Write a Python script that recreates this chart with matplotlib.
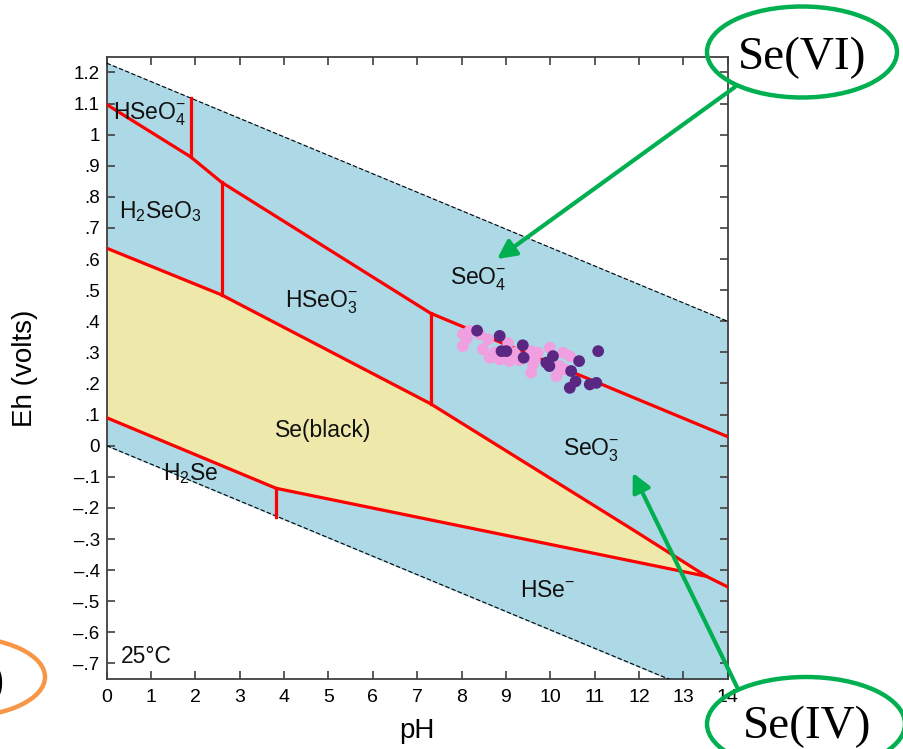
import matplotlib.pyplot as plt
from matplotlib.patches import Ellipse, Polygon

plt.rcParams['font.family'] = ['Liberation Sans', 'DejaVu Sans']
plt.rcParams['mathtext.fontset'] = 'custom'
plt.rcParams['mathtext.rm'] = 'Liberation Sans'
plt.rcParams['mathtext.it'] = 'Liberation Sans'

# water stability limits
water_ph = [0, 14]
water_top = [1.23, 0.40]
water_bot = [0.0, -0.829]

# red boundaries (pH, Eh)
upper_ph = [0, 1.89, 2.59, 7.30, 14]
upper_eh = [1.097, 0.929, 0.847, 0.426, 0.029]
se_top_ph = [0, 2.59, 7.30, 11.86, 13.52, 14]
se_top_eh = [0.635, 0.485, 0.135, -0.27, -0.42, -0.454]
se_bot_ph = [0, 3.82, 13.52]
se_bot_eh = [0.09, -0.137, -0.42]
vert_ph = [1.89, 2.59, 7.30, 3.82]
vert_lo = [0.929, 0.485, 0.135, -0.229]
vert_hi = [1.118, 0.847, 0.426, -0.137]

# samples
pink_ph = [8.03, 8.03, 8.12, 8.18, 8.41, 8.60, 8.48, 8.63, 8.75, 8.86, 9.05, 9.08, 9.20, 9.30,
           9.57, 9.72, 9.61, 9.57, 9.65, 9.99, 10.29, 10.44, 10.21, 10.32, 10.14]
pink_eh = [0.358, 0.320, 0.345, 0.369, 0.358, 0.342, 0.310, 0.283, 0.300, 0.277, 0.330, 0.272, 0.299, 0.275,
           0.304, 0.299, 0.261, 0.235, 0.277, 0.315, 0.299, 0.288, 0.256, 0.245, 0.224]
dark_ph = [8.35, 8.86, 8.90, 9.01, 9.38, 9.40, 9.91, 9.98, 10.06, 10.47, 10.65, 10.57, 10.44, 10.89, 11.04, 11.08]
dark_eh = [0.370, 0.353, 0.304, 0.304, 0.323, 0.283, 0.267, 0.256, 0.288, 0.240, 0.272, 0.207, 0.186, 0.197, 0.202, 0.304]

# species labels (pH, Eh, text)
species = [
    (0.14, 1.048, r'$\mathrm{HSeO_4^{-}}$'),
    (0.28, 0.732, r'$\mathrm{H_2SeO_3}$'),
    (7.75, 0.519, r'$\mathrm{SeO_4^{-}}$'),
    (4.01, 0.445, r'$\mathrm{HSeO_3^{-}}$'),
    (3.79, 0.029, 'Se(black)'),
    (10.28, -0.032, r'$\mathrm{SeO_3^{-}}$'),
    (1.28, -0.110, r'$\mathrm{H_2Se}$'),
    (9.31, -0.486, r'$\mathrm{HSe^{-}}$'),
    (0.33, -0.699, '25°C'),
]

xticks = list(range(0, 15))
yticks = [-0.7, -0.6, -0.5, -0.4, -0.3, -0.2, -0.1, 0, 0.1, 0.2, 0.3, 0.4, 0.5, 0.6, 0.7, 0.8, 0.9, 1.0, 1.1, 1.2]
ylabels = ['–.7', '–.6', '–.5', '–.4', '–.3', '–.2', '–.1', '0', '.1', '.2', '.3', '.4', '.5', '.6',
           '.7', '.8', '.9', '1', '1.1', '1.2']

fig = plt.figure(figsize=(9.04, 7.49), dpi=100)
ax = fig.add_axes([0.118, 0.0935, 0.687, 0.8305])

ax.fill_between(water_ph, water_top, water_bot, color='#add8e6', zorder=1)
yellow = list(zip(se_top_ph[:-1], se_top_eh[:-1])) + list(zip(se_bot_ph[::-1], se_bot_eh[::-1]))
ax.add_patch(Polygon(yellow, closed=True, color='#eee8aa', zorder=2))
ax.plot(water_ph, water_top, color='black', lw=0.8, ls=(0, (4, 2)), zorder=3)
ax.plot(water_ph, water_bot, color='black', lw=0.8, ls=(0, (4, 2)), zorder=3)

ax.plot(upper_ph, upper_eh, color='red', lw=2.3, zorder=4)
ax.plot(se_top_ph, se_top_eh, color='red', lw=2.3, zorder=4)
ax.plot(se_bot_ph, se_bot_eh, color='red', lw=2.3, zorder=4)
for p, lo, hi in zip(vert_ph, vert_lo, vert_hi):
    ax.plot([p, p], [lo, hi], color='red', lw=2.3, zorder=4)

ax.scatter(pink_ph, pink_eh, s=72, color='#f0a0e0', edgecolors='none', zorder=5)
ax.scatter(dark_ph, dark_eh, s=72, color='#5a2882', edgecolors='none', zorder=6)

for x, y, t in species:
    ax.text(x, y, t, fontsize=16.5, ha='left', va='baseline', color='#111111', zorder=7)

ax.set_xlim(0, 14)
ax.set_ylim(-0.75, 1.25)
ax.set_xticks(xticks)
ax.set_yticks(yticks)
ax.set_yticklabels(ylabels)
ax.tick_params(direction='in', top=True, right=True, length=6, width=1.2, color='#404040')
ax.tick_params(axis='x', pad=7, labelsize=14)
ax.tick_params(axis='y', pad=5, labelsize=13.5)
for s in ax.spines.values():
    s.set_color('#404040')
    s.set_linewidth(1.3)
ax.set_xlabel('pH', fontsize=20)
ax.set_ylabel('Eh (volts)', fontsize=20)
ax.xaxis.set_label_coords(0.5, -0.063)
ax.yaxis.set_label_coords(-0.111, 0.5)

# callouts on top, in figure pixels
ov = fig.add_axes([0, 0, 1, 1], zorder=10)
ov.set_xlim(0, 904)
ov.set_ylim(749, 0)
ov.axis('off')
ov.patch.set_alpha(0)

green = '#00b050'
ov.add_patch(Ellipse((802, 52), 190, 91, fill=False, ec=green, lw=3.2))
ov.text(802, 58, 'Se(VI)', fontsize=34, family='Liberation Serif', ha='center', va='center')
ov.add_patch(Ellipse((806, 724), 198, 94, fill=False, ec=green, lw=3.2))
ov.text(807, 727, 'Se(IV)', fontsize=34, family='Liberation Serif', ha='center', va='center')
ov.add_patch(Ellipse((-40, 677), 170, 80, fill=False, ec='#f79646', lw=3.2))
ov.text(5, 683, 'Se(0)', fontsize=34, family='Liberation Serif', ha='right', va='center')

ov.annotate('', xy=(8.8, 0.60), xycoords=ax.transData, xytext=(735, 87), textcoords='data',
            arrowprops=dict(arrowstyle='-|>', color=green, lw=3, mutation_scale=28, shrinkA=0, shrinkB=0))
ov.annotate('', xy=(11.86, -0.087), xycoords=ax.transData, xytext=(737, 687), textcoords='data',
            arrowprops=dict(arrowstyle='-|>', color=green, lw=3, mutation_scale=28, shrinkA=0, shrinkB=0))

fig.savefig('out.png', dpi=100)
